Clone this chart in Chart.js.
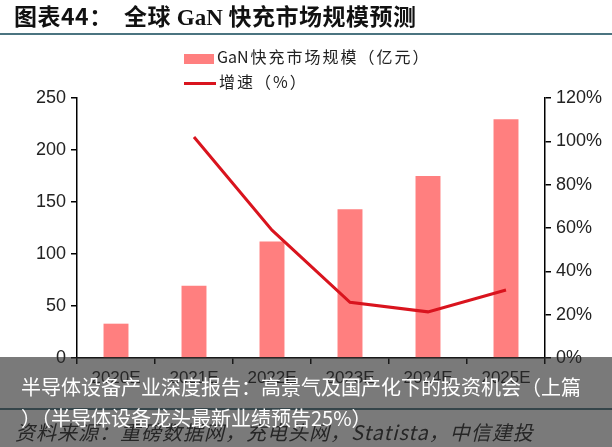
<!DOCTYPE html>
<html>
<head>
<meta charset="utf-8">
<script src="https://cdn.jsdelivr.net/npm/chart.js@4.4.1/dist/chart.umd.min.js"></script>
<style>
    html, body { margin: 0; padding: 0; background: #fff; }
    .frame { position: relative; width: 612px; height: 447px; overflow: hidden; font-family: "Noto Sans CJK SC", "Liberation Sans", sans-serif; }
    .frame canvas { position: absolute; left: 0; top: 0; }
    .title { position: absolute; left: 14px; top: 0px; font-size: 23px; font-weight: bold; letter-spacing: 0.5px; color: #111; white-space: nowrap; line-height: 30px; }
    .title .latin { font-family: "Liberation Serif", serif; letter-spacing: 0; }
    .rule { position: absolute; left: 0; width: 612px; height: 2px; background: #4b7480; }
    .legend { position: absolute; left: 184px; font-size: 16px; letter-spacing: 2px; color: #222; white-space: nowrap; line-height: 20px; }
    .legend b { font-weight: normal; letter-spacing: 0; margin-right: 2px; }
    .legend i { display: inline-block; vertical-align: middle; margin-right: 3px; }
    .source { position: absolute; left: 15px; top: 417px; font-size: 20px; letter-spacing: 1px; font-style: italic; color: #222; white-space: nowrap; }
    .banner { position: absolute; left: 0; top: 357px; width: 612px; height: 90px; background: rgba(40, 40, 40, 0.62); }
    .banner div { position: absolute; left: 21px; color: #fff; font-size: 20px; white-space: nowrap; line-height: 26px; }
</style>
</head>
<body>
<div class="frame">
    <canvas id="chart" width="612" height="447"></canvas>
    <div class="title">图表44：&nbsp;&nbsp;全球 <span class="latin">GaN</span> 快充市场规模预测</div>
    <div class="rule" style="top: 33px;"></div>
    <div class="legend" style="top: 46px;"><i style="width: 30px; height: 10px; background: #ff7f7f;"></i><b>GaN</b>快充市场规模（亿元）</div>
    <div class="legend" style="top: 71px;"><i style="width: 32px; height: 3px; background: #d9141e;"></i>增速（%）</div>
    <div class="rule" style="top: 408px;"></div>
    <div class="source">资料来源：重磅数据网，充电头网，Statista，中信建投</div>
    <div class="banner">
        <div style="top: 17px;">半导体设备产业深度报告：高景气及国产化下的投资机会（上篇</div>
        <div style="top: 48px;">）（半导体设备龙头最新业绩预告25%）</div>
    </div>
</div>
<script>
const years = ["2020E", "2021E", "2022E", "2023E", "2024E", "2025E"];
const marketSize = [33, 69.5, 112, 143, 175, 229.5];
const growth = [null, 102, 59, 25.7, 21.3, 31.4];
const leftTicks = [0, 50, 100, 150, 200, 250];
const rightTicks = [0, 20, 40, 60, 80, 100, 120];

const axisFont = { family: "Liberation Sans", size: 18 };

const fixedWidth = (w) => (scale) => { scale.width = w; };

new Chart(document.getElementById("chart"), {
    type: "bar",
    data: {
        labels: years,
        datasets: [
            {
                type: "line",
                label: "增速（%）",
                data: growth,
                yAxisID: "y1",
                borderColor: "#d9141e",
                backgroundColor: "#d9141e",
                borderWidth: 3,
                pointRadius: 0,
                tension: 0,
                order: 0,
            },
            {
                type: "bar",
                label: "GaN快充市场规模（亿元）",
                data: marketSize,
                yAxisID: "y",
                backgroundColor: "#ff7f7f",
                barPercentage: 0.32,
                categoryPercentage: 1,
                order: 1,
            },
        ],
    },
    options: {
        responsive: false,
        animation: false,
        layout: { padding: { top: 98, left: 0, right: 0, bottom: 0 } },
        plugins: {
            legend: { display: false },
            tooltip: { enabled: false },
        },
        scales: {
            x: {
                afterFit: (scale) => { scale.height = 89; },
                grid: { drawOnChartArea: false, drawTicks: true, tickLength: 6, color: "#000", lineWidth: 1.5 },
                border: { display: true, color: "#000", width: 1.5 },
                ticks: { color: "#222", font: { family: "Liberation Sans", size: 17 }, padding: 4, maxRotation: 0 },
            },
            y: {
                position: "left",
                min: 0,
                max: 250,
                afterFit: fixedWidth(77),
                afterBuildTicks: (scale) => { scale.ticks = leftTicks.map(v => ({ value: v })); },
                grid: { drawOnChartArea: false, drawTicks: true, tickLength: 6, color: "#000", lineWidth: 1.5 },
                border: { display: true, color: "#000", width: 1.5 },
                ticks: { color: "#222", font: axisFont, padding: 5 },
            },
            y1: {
                position: "right",
                min: 0,
                max: 120,
                afterFit: fixedWidth(67),
                afterBuildTicks: (scale) => { scale.ticks = rightTicks.map(v => ({ value: v })); },
                grid: { drawOnChartArea: false, drawTicks: true, tickLength: 6, color: "#000", lineWidth: 1.5 },
                border: { display: true, color: "#000", width: 1.5 },
                ticks: { color: "#222", font: axisFont, padding: 5, callback: (v) => v + "%" },
            },
        },
    },
});
</script>
</body>
</html>
